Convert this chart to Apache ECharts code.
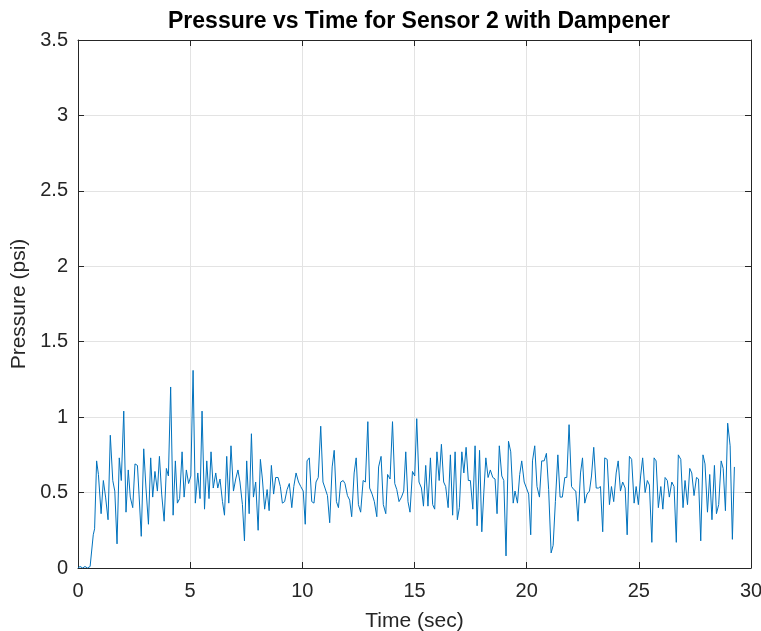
<!DOCTYPE html>
<html>
<head>
<meta charset="utf-8">
<script src="https://cdn.jsdelivr.net/npm/echarts@6/dist/echarts.min.js"></script>
<style>
  html, body { margin: 0; padding: 0; background: #fff; }
  #main { width: 761px; height: 631px; }
</style>
</head>
<body>
<div id="main"></div>
<script>
// time (sec)
var timeSec = [
  0, 0.09, 0.21, 0.31, 0.42, 0.54, 0.68, 0.74, 0.83, 0.91, 1.03, 1.13, 1.23, 1.34, 1.44, 1.55, 1.64, 1.74, 1.84, 1.93,
  2.04, 2.14, 2.24, 2.33, 2.44, 2.54, 2.65, 2.72, 2.82, 2.93, 3.03, 3.14, 3.24, 3.33, 3.43, 3.54, 3.63, 3.73, 3.84, 3.94,
  4.03, 4.13, 4.24, 4.34, 4.43, 4.53, 4.64, 4.73, 4.83, 4.93, 5.03, 5.13, 5.23, 5.34, 5.44, 5.53, 5.64, 5.74, 5.84, 5.93,
  6.03, 6.14, 6.23, 6.33, 6.44, 6.53, 6.63, 6.72, 6.82, 6.93, 7.03, 7.13, 7.22, 7.33, 7.42, 7.52, 7.63, 7.73, 7.82, 7.92,
  8.03, 8.13, 8.22, 8.32, 8.43, 8.52, 8.62, 8.72, 8.81, 8.92, 9.02, 9.11, 9.21, 9.32, 9.42, 9.53, 9.62, 9.72, 9.83, 9.93,
  10.04, 10.13, 10.21, 10.31, 10.42, 10.52, 10.61, 10.71, 10.82, 10.92, 11.01, 11.12, 11.22, 11.33, 11.42, 11.52, 11.61, 11.71, 11.82, 11.90,
  12.01, 12.11, 12.20, 12.31, 12.40, 12.50, 12.60, 12.71, 12.81, 12.92, 13.00, 13.11, 13.21, 13.32, 13.40, 13.51, 13.61, 13.72, 13.80, 13.91,
  14.02, 14.12, 14.21, 14.31, 14.42, 14.52, 14.61, 14.71, 14.80, 14.91, 15.01, 15.10, 15.20, 15.31, 15.40, 15.50, 15.60, 15.71, 15.81, 15.90,
  16.00, 16.10, 16.20, 16.30, 16.39, 16.50, 16.60, 16.70, 16.81, 16.91, 17.00, 17.11, 17.20, 17.30, 17.40, 17.49, 17.60, 17.70, 17.79, 17.90,
  18.00, 18.09, 18.18, 18.28, 18.38, 18.49, 18.59, 18.68, 18.78, 18.89, 18.98, 19.08, 19.19, 19.29, 19.40, 19.48, 19.59, 19.69, 19.78, 19.89,
  19.99, 20.09, 20.18, 20.26, 20.36, 20.46, 20.57, 20.67, 20.78, 20.88, 20.98, 21.09, 21.18, 21.28, 21.39, 21.49, 21.59, 21.70, 21.79, 21.89,
  22.00, 22.10, 22.19, 22.29, 22.40, 22.49, 22.59, 22.69, 22.80, 22.89, 22.99, 23.10, 23.20, 23.29, 23.39, 23.48, 23.59, 23.69, 23.78, 23.88,
  23.99, 24.08, 24.18, 24.28, 24.39, 24.48, 24.58, 24.68, 24.79, 24.88, 24.98, 25.08, 25.17, 25.28, 25.38, 25.47, 25.58, 25.68, 25.77, 25.87,
  25.98, 26.07, 26.17, 26.27, 26.36, 26.47, 26.57, 26.67, 26.76, 26.87, 26.97, 27.06, 27.17, 27.27, 27.36, 27.46, 27.57, 27.66, 27.76, 27.86,
  27.95, 28.06, 28.16, 28.26, 28.37, 28.46, 28.56, 28.67, 28.76, 28.86, 28.96, 29.07, 29.17, 29.26
];

// pressure (psi)
var pressurePsi = [
  0, 0.01, 0, 0.01, 0, 0.01, 0.22, 0.26, 0.71, 0.62, 0.36, 0.58, 0.47, 0.32, 0.88, 0.58, 0.51, 0.16, 0.73, 0.58,
  1.04, 0.37, 0.65, 0.47, 0.40, 0.69, 0.68, 0.49, 0.21, 0.79, 0.53, 0.29, 0.73, 0.47, 0.64, 0.51, 0.74, 0.49, 0.31, 0.66,
  0.61, 1.20, 0.35, 0.71, 0.43, 0.46, 0.77, 0.47, 0.65, 0.56, 0.61, 1.31, 0.43, 0.63, 0.46, 1.04, 0.39, 0.71, 0.46, 0.77,
  0.53, 0.63, 0.53, 0.59, 0.44, 0.35, 0.74, 0.43, 0.81, 0.51, 0.59, 0.65, 0.57, 0.42, 0.18, 0.71, 0.36, 0.89, 0.47, 0.57,
  0.25, 0.72, 0.59, 0.39, 0.52, 0.38, 0.68, 0.49, 0.60, 0.60, 0.54, 0.43, 0.44, 0.52, 0.56, 0.40, 0.54, 0.63, 0.57, 0.54,
  0.51, 0.29, 0.71, 0.73, 0.44, 0.43, 0.57, 0.60, 0.94, 0.57, 0.53, 0.48, 0.30, 0.67, 0.78, 0.44, 0.40, 0.57, 0.58, 0.56,
  0.48, 0.45, 0.34, 0.63, 0.73, 0.42, 0.37, 0.58, 0.57, 0.97, 0.53, 0.49, 0.44, 0.34, 0.67, 0.74, 0.42, 0.36, 0.62, 0.59,
  0.97, 0.56, 0.52, 0.44, 0.47, 0.51, 0.77, 0.44, 0.37, 0.64, 0.61, 0.99, 0.57, 0.53, 0.41, 0.68, 0.41, 0.73, 0.42, 0.39,
  0.77, 0.58, 0.82, 0.57, 0.54, 0.40, 0.75, 0.35, 0.77, 0.32, 0.40, 0.77, 0.63, 0.80, 0.58, 0.58, 0.39, 0.81, 0.28, 0.78,
  0.24, 0.50, 0.73, 0.60, 0.65, 0.60, 0.59, 0.36, 0.81, 0.61, 0.58, 0.08, 0.84, 0.77, 0.43, 0.51, 0.43, 0.62, 0.71, 0.57,
  0.53, 0.49, 0.22, 0.71, 0.81, 0.54, 0.47, 0.71, 0.71, 0.76, 0.52, 0.10, 0.15, 0.44, 0.75, 0.47, 0.47, 0.60, 0.60, 0.95,
  0.54, 0.52, 0.51, 0.31, 0.63, 0.73, 0.43, 0.49, 0.51, 0.61, 0.80, 0.53, 0.53, 0.54, 0.24, 0.73, 0.72, 0.42, 0.54, 0.44,
  0.63, 0.71, 0.51, 0.57, 0.53, 0.22, 0.74, 0.72, 0.43, 0.54, 0.42, 0.61, 0.73, 0.50, 0.58, 0.55, 0.17, 0.73, 0.71, 0.40,
  0.54, 0.39, 0.60, 0.58, 0.47, 0.57, 0.54, 0.17, 0.75, 0.72, 0.40, 0.58, 0.42, 0.66, 0.63, 0.48, 0.60, 0.59, 0.18, 0.75,
  0.69, 0.37, 0.62, 0.32, 0.68, 0.36, 0.42, 0.71, 0.66, 0.38, 0.96, 0.81, 0.19, 0.67
];

var xTicks = [0, 5, 10, 15, 20, 25, 30];
var yTicks = [0, 0.5, 1, 1.5, 2, 2.5, 3, 3.5];

var points = [];
for (var i = 0; i < timeSec.length; i++) {
  points.push([timeSec[i], pressurePsi[i]]);
}

var chart = echarts.init(document.getElementById('main'));

var font = 'Liberation Sans, Arial, Helvetica, sans-serif';
var axisColor = '#262626';

function boxAxis(showLabels) {
  return {
    axisLine: { show: true, onZero: false, lineStyle: { color: axisColor, width: 1 } },
    axisTick: { show: true, inside: true, length: 6, lineStyle: { color: axisColor } },
    axisLabel: { show: showLabels, color: axisColor, fontSize: 20, fontFamily: font },
    splitLine: { show: showLabels, lineStyle: { color: '#e3e3e3', width: 1 } }
  };
}

var xBottom = Object.assign(boxAxis(true), {
  type: 'value', position: 'bottom', min: xTicks[0], max: xTicks[xTicks.length - 1], interval: 5,
  name: 'Time (sec)', nameLocation: 'middle', nameGap: 43,
  nameTextStyle: { color: axisColor, fontSize: 21, fontFamily: font }
});
xBottom.axisLabel.margin = 13;
var xTop = Object.assign(boxAxis(false), {
  type: 'value', position: 'top', min: 0, max: 30, interval: 5
});
var yLeft = Object.assign(boxAxis(true), {
  type: 'value', position: 'left', min: yTicks[0], max: yTicks[yTicks.length - 1], interval: 0.5,
  name: 'Pressure (psi)', nameLocation: 'middle', nameGap: 47,
  nameTextStyle: { color: axisColor, fontSize: 21, fontFamily: font }
});
yLeft.axisLabel.margin = 10;
var yRight = Object.assign(boxAxis(false), {
  type: 'value', position: 'right', min: 0, max: 3.5, interval: 0.5
});

chart.setOption({
  animation: false,
  backgroundColor: '#fff',
  title: {
    text: 'Pressure vs Time for Sensor 2 with Dampener',
    left: 414, top: 5, textAlign: 'center',
    textStyle: { color: '#000', fontSize: 23, fontWeight: 'bold', fontFamily: font }
  },
  grid: { left: 78, right: 10, top: 40, bottom: 63, containLabel: false, outerBoundsMode: 'none' },
  xAxis: [xBottom, xTop],
  yAxis: [yLeft, yRight],
  series: [{
    type: 'line',
    data: points,
    showSymbol: false,
    lineStyle: { color: '#0072BD', width: 1 },
    itemStyle: { color: '#0072BD' }
  }]
});
</script>
</body>
</html>
